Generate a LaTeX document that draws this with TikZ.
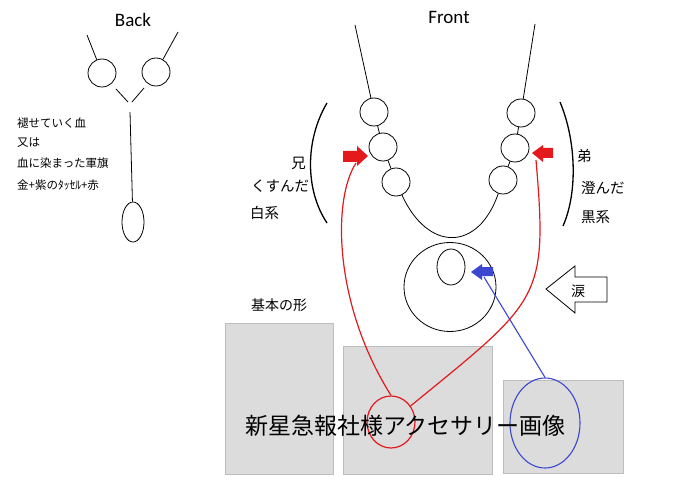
\documentclass[tikz,border=0pt]{standalone}
\usepackage{fontspec}
\usepackage{tikz}
\usetikzlibrary{shapes.geometric}
\newfontfamily\jpfont{Noto Sans CJK JP}
\newfontfamily\labelfont{Carlito}
\definecolor{markred}{HTML}{E3191C}
\definecolor{markblue}{HTML}{3B47D0}
\definecolor{photogray}{HTML}{DCDCDC}
\definecolor{photoedge}{HTML}{BDBDBD}

\begin{document}
\begin{tikzpicture}[x=1pt, y=-1pt,
    bead/.style={draw, circle, minimum size=28pt, inner sep=0pt, line width=0.8pt},
    oval/.style={draw, ellipse, inner sep=0pt, line width=0.8pt},
    cord/.style={line width=0.8pt},
    photo/.style={fill=photogray, draw=photoedge, line width=0.8pt},
    redline/.style={markred, line width=1.2pt},
    blueline/.style={markblue, line width=1.1pt},
    jp/.style={font=\jpfont\fontsize{#1}{#1}\selectfont, inner sep=0pt},
    title/.style={font=\labelfont\fontsize{19}{19}\selectfont, inner sep=0pt}]
    \useasboundingbox (0,0) rectangle (680,481);

    % back view
    \node [title] (back) at (133,20) {Back};
    \node [bead] (bl) at (102,73) {};
    \node [bead] (br) at (156,72) {};
    \coordinate (blend) at (87,35);
    \coordinate (brend) at (178,32);
    \draw [cord] (blend) -- (bl);
    \draw [cord] (brend) -- (br);
    \draw [cord] (116,89) -- (128,102);
    \draw [cord] (144,88) -- (132,102);
    \node [oval, minimum width=22pt, minimum height=40pt] (drop) at (133,222) {};
    \coordinate (knot) at (130,112);
    \draw [cord] (knot) -- (drop);
    \node [jp=11.5, anchor=west] (fade) at (17,123) {褪せていく血};
    \node [jp=11.5, anchor=west] (orelse) at (17,143) {又は};
    \node [jp=11.5, anchor=west] (flag) at (17,163) {血に染まった軍旗};
    \node [jp=11.5, anchor=west] (tassel) at (17,185) {金+紫のﾀｯｾﾙ+赤};

    % front view
    \node [title] (front) at (449,17) {Front};
    \node [bead] (lb1) at (374,112) {};
    \node [bead] (lb2) at (383,147) {};
    \node [bead] (lb3) at (396,182) {};
    \node [bead] (rb1) at (521,113) {};
    \node [bead] (rb2) at (515,148) {};
    \node [bead] (rb3) at (503,180) {};
    \coordinate (lend) at (355,25);
    \coordinate (rend) at (535,24);
    \draw [cord] (lend) -- (lb1);
    \draw [cord] (lb1) -- (lb2);
    \draw [cord] (lb2) -- (lb3);
    \draw [cord] (rend) -- (rb1);
    \draw [cord] (rb1) -- (rb2);
    \draw [cord] (rb2) -- (rb3);
    \draw [cord] (lb3) .. controls (428,252) and (478,252) .. (rb3);
    \draw [line width=1.3pt] (327,103) .. controls (305,140) and (305,190) .. (327,223);
    \draw [line width=1.3pt] (560,102) .. controls (576,140) and (578,192) .. (563,226);
    \node [jp=14.5, anchor=east] (elder) at (306,163) {兄};
    \node [jp=14.5, anchor=west] (dull) at (251,186) {くすんだ};
    \node [jp=14.5, anchor=west] (white) at (250,213) {白系};
    \node [jp=14.5, anchor=west] (younger) at (577,156) {弟};
    \node [jp=14.5, anchor=west] (clear) at (581,188) {澄んだ};
    \node [jp=14.5, anchor=west] (black) at (581,217) {黒系};

    % pendant
    \node [oval, minimum width=92pt, minimum height=89pt] (pend) at (450,287) {};
    \node [oval, minimum width=28pt, minimum height=36pt] (tear) at (451,267) {};
    \draw [cord, fill=white] (546,289) -- (575,266) -- (575,277) -- (607,277) -- (607,302) -- (575,302) -- (575,313) -- cycle;
    \node [jp=14] (namida) at (578,291) {涙};
    \node [jp=14] (basic) at (279,305) {基本の形};

    % photos
    \draw [photo] (225,323) rectangle (333,474);
    \draw [photo] (343,346) rectangle (492,474);
    \draw [photo] (503,380) rectangle (623,473);

    % markers
    \coordinate (ltip) at (368,156);
    \coordinate (rtip) at (532,153);
    \coordinate (btip) at (471,272);
    \fill [markred] (ltip) -- (357,146) -- (357,151) -- (343,151) -- (343,162) -- (357,162) -- (357,166) -- cycle;
    \fill [markred] (rtip) -- (543,145) -- (543,148) -- (553,148) -- (553,158) -- (543,158) -- (543,162) -- cycle;
    \fill [markblue] (btip) -- (482,264) -- (482,267) -- (493,267) -- (493,276) -- (482,276) -- (482,280) -- cycle;
    \node [draw=markred, ellipse, line width=1.2pt, minimum width=48pt, minimum height=52pt, inner sep=0pt] (redring) at (391,422) {};
    \node [draw=markblue, ellipse, line width=1.1pt, minimum width=70pt, minimum height=90pt, inner sep=0pt] (bluering) at (545,423) {};
    \coordinate (lhook) at (356,163);
    \coordinate (rhook) at (536,160);
    \coordinate (bhook) at (484,277);
    \draw [redline] (lhook) .. controls (332,200) and (334,305) .. (redring.north);
    \draw [redline] (rhook) .. controls (548,300) and (540,300) .. (redring);
    \draw [blueline] (bhook) -- (bluering.north);
    \node [jp=23] (caption) at (405.5,426) {新星急報社様アクセサリー画像};
\end{tikzpicture}
\end{document}
